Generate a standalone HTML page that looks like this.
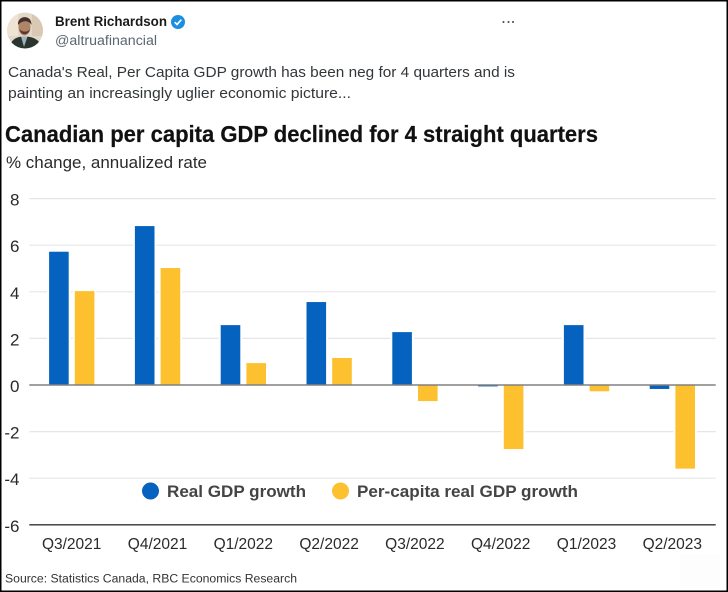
<!DOCTYPE html>
<html lang="en">
<head>
<meta charset="utf-8">
<title>Canadian per capita GDP</title>
<style>
html,body{margin:0;padding:0;background:#fff;width:728px;height:592px;overflow:hidden}
svg{display:block;filter:blur(0.35px)}
text{font-family:"Liberation Sans",sans-serif}
</style>
</head>
<body>
<svg id="chart" xmlns="http://www.w3.org/2000/svg" width="728" height="592" viewBox="0 0 728 592">
  <rect x="0" y="0" width="728" height="592" fill="#fff"/>
  <rect x="680" y="554" width="40" height="34" fill="#fdfdfd"/>

  <g>
    <clipPath id="av"><circle cx="25" cy="30.500" r="18"/></clipPath>
    <g clip-path="url(#av)">
      <rect x="7" y="12" width="36" height="37" fill="#e3d8c8"/>
      <rect x="7" y="12" width="11" height="24" fill="#efe4d4"/>
      <rect x="32" y="12" width="11" height="24" fill="#d9c9b4"/>
      <path d="M9 50 C10 40 16 36.500 24 36.500 C33 36.500 40 39 43 50 Z" fill="#2b3530"/>
      <path d="M21 36.500 L24 47 L27.500 36.500 Z" fill="#9fb0ba"/>
      <ellipse cx="24.500" cy="27" rx="6" ry="8.500" fill="#b08467"/>
      <path d="M18 25 C17 15 32 14 31.500 25 C29 20 22 20 18 25 Z" fill="#43302a"/>
      <path d="M19.500 29 C20.500 36 28.500 36 30 29 C28 32.500 22 32.500 19.500 29 Z" fill="#55392b"/>
    </g>
  </g>
  <text x="55" y="26" font-size="13.500" font-weight="700" fill="#1a1a1a" textLength="112" lengthAdjust="spacingAndGlyphs">Brent Richardson</text>
  <g>
    <circle cx="178" cy="22" r="7" fill="#1d8fe0"/>
    <path d="M174.700 22.200 L177 24.500 L181.300 19.700" fill="none" stroke="#fff" stroke-width="1.700"/>
  </g>
  <text x="55" y="45" font-size="13.500" fill="#5b6670" textLength="102" lengthAdjust="spacingAndGlyphs">@altruafinancial</text>
  <g fill="#444">
    <circle cx="503.500" cy="22" r="1"/><circle cx="508.500" cy="22" r="1"/><circle cx="513" cy="22" r="1"/>
  </g>
  <text x="8" y="77" font-size="14.500" fill="#33373a" textLength="507" lengthAdjust="spacingAndGlyphs">Canada's Real, Per Capita GDP growth has been neg for 4 quarters and is</text>
  <text x="8" y="98" font-size="14.500" fill="#33373a" textLength="343" lengthAdjust="spacingAndGlyphs">painting an increasingly uglier economic picture...</text>

  <text x="5" y="142" font-size="23" font-weight="700" fill="#111" stroke="#111" stroke-width="0.200" textLength="593" lengthAdjust="spacingAndGlyphs">Canadian per capita GDP declined for 4 straight quarters</text>
  <text x="6" y="168" font-size="17" fill="#2a2a2a" textLength="201" lengthAdjust="spacingAndGlyphs">% change, annualized rate</text>

  <g id="grid"></g>
  <g id="yticks"></g>
  <g id="bars"></g>
  <g id="axes"></g>
  <g id="xticks"></g>

  <g>
    <circle cx="150.500" cy="491" r="8.500" fill="#0562bf"/>
    <text x="167" y="497" font-size="17" font-weight="700" fill="#444" textLength="139" lengthAdjust="spacingAndGlyphs">Real GDP growth</text>
    <circle cx="340.500" cy="491" r="8.500" fill="#fdc02f"/>
    <text x="357" y="497" font-size="17" font-weight="700" fill="#444" textLength="221" lengthAdjust="spacingAndGlyphs">Per-capita real GDP growth</text>
  </g>

  <text x="5" y="582.500" font-size="11.500" fill="#333" textLength="292" lengthAdjust="spacingAndGlyphs">Source: Statistics Canada, RBC Economics Research</text>

  <g fill="#000">
    <rect x="0" y="0" width="728" height="1.500"/>
    <rect x="0" y="590.500" width="728" height="1.500"/>
    <rect x="0" y="0" width="1.500" height="592"/>
    <rect x="726.500" y="0" width="1.500" height="592"/>
  </g>
</svg>
<script>
const categories = ["Q3/2021","Q4/2021","Q1/2022","Q2/2022","Q3/2022","Q4/2022","Q1/2023","Q2/2023"];
const realGdp = [5.72,6.82,2.57,3.56,2.27,-0.06,2.57,-0.17];
const perCapita = [4.03,5.02,0.94,1.16,-0.69,-2.75,-0.27,-3.59];
const yTicks = [8,6,4,2,0,-2,-4,-6];

const NS = "http://www.w3.org/2000/svg";
const plotLeft = 29.3, plotRight = 715.7, zeroY = 385, unit = 23.3;
const barW = 19.6, blueOffset = -23.1, yellowOffset = 2.6;
function yScale(v){ return zeroY - v * unit; }
function xCenter(i){ return plotLeft + (plotRight - plotLeft) / categories.length * (i + 0.5); }
function make(tag, attrs, parent){
  const el = document.createElementNS(NS, tag);
  for (const k in attrs) el.setAttribute(k, attrs[k]);
  parent.appendChild(el);
  return el;
}
const grid = document.getElementById("grid");
const yt = document.getElementById("yticks");
const bars = document.getElementById("bars");
const axes = document.getElementById("axes");
const xt = document.getElementById("xticks");

yTicks.forEach(function(t){
  const y = yScale(t);
  if (t !== 0 && t !== -6) {
    const g = make("line", {x1: plotLeft, x2: plotRight, y1: y, y2: y, stroke: "#e6e6e6", "stroke-width": 1.2}, grid);
    
    
  }
  const lab = make("text", {x: 19.5, y: y + 7, "font-size": 17, "text-anchor": "end", fill: "#2a2a2a"}, yt);
  lab.textContent = String(t);
  
  
});

function drawBar(i, v, offset, color, name){
  const x = xCenter(i) + offset;
  const y0 = yScale(Math.max(v, 0));
  const h = Math.abs(yScale(v) - yScale(0));
  const halo = make("rect", {x: x - 2, y: y0, width: barW + 4, height: h, fill: "#fff"}, bars);
  
  
  const r = make("rect", {x: x, y: y0, width: barW, height: h, fill: color}, bars);
  
  
}
categories.forEach(function(c, i){
  drawBar(i, realGdp[i], blueOffset, "#0562bf", "bar-real-gdp");
  drawBar(i, perCapita[i], yellowOffset, "#fdc02f", "bar-per-capita");
  const lab = make("text", {x: xCenter(i) - 0.5, y: 549, "font-size": 15.5, "text-anchor": "middle", fill: "#2a2a2a"}, xt);
  lab.textContent = c;
  
  
});

const zero = make("line", {x1: plotLeft, x2: plotRight, y1: yScale(0), y2: yScale(0), stroke: "#808080", "stroke-width": 1.4}, axes);


const base = make("line", {x1: plotLeft, x2: plotRight, y1: yScale(-6), y2: yScale(-6), stroke: "#333", "stroke-width": 1.3}, axes);


</script>
</body>
</html>
